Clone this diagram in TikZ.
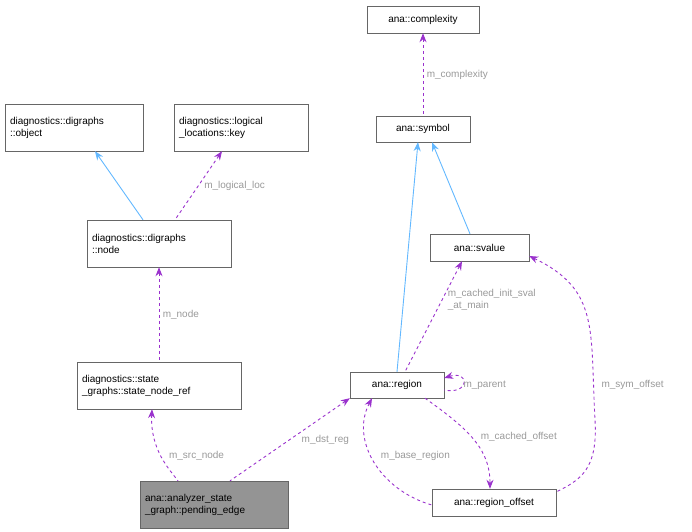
\documentclass[tikz,border=0pt]{standalone}
\usepackage{fontspec}
\setmainfont{Liberation Sans}
\usetikzlibrary{positioning,arrows.meta}
\definecolor{edgepurple}{RGB}{154,50,205}
\definecolor{edgeblue}{RGB}{99,184,255}
\definecolor{boxgray}{RGB}{102,102,102}
\definecolor{labelgray}{RGB}{153,153,153}

\begin{document}
\begin{tikzpicture}[x=1pt,y=-1pt,>={Stealth[length=9pt,width=7pt]}]
  % Node and edge styles
  \tikzset{
    cls/.style={rectangle, draw=boxgray, fill=white, inner sep=2pt, align=center, font=\fontsize{10}{12}\selectfont},
    wide/.style={cls, align=left, inner xsep=5pt, text width=#1},
    focus/.style={wide=#1, fill=boxgray!70},
    inherit/.style={<-, edgeblue, line width=0.9pt},
    member/.style={<-, dashed, edgepurple, line width=0.9pt},
    lbl/.style={font=\fontsize{10}{12}\selectfont, text=labelgray, align=left}
  }
  \useasboundingbox (0,0) rectangle (692,531);

  % Classes
  \node[cls, minimum width=112, minimum height=27] (complexity) at (423,19.5) {ana::complexity};
  \node[cls, minimum width=94, minimum height=26] (symbol) at (423,129) {ana::symbol};
  \node[wide=128pt, minimum height=47] (object) at (74,127.5) {diagnostics::digraphs\\::object};
  \node[wide=124pt, minimum height=47] (key) at (241,127.5) {diagnostics::logical\\\_locations::key};
  \node[wide=134pt, minimum height=47] (dnode) at (159,243.5) {diagnostics::digraphs\\::node};
  \node[cls, minimum width=99, minimum height=27] (svalue) at (479.5,247.5) {ana::svalue};
  \node[wide=154pt, minimum height=47] (noderef) at (159,385.5) {diagnostics::state\\\_graphs::state\_node\_ref};
  \node[cls, minimum width=94, minimum height=26] (region) at (397,385) {ana::region};
  \node[focus=138pt, minimum height=47] (pending) at (214,504.5) {ana::analyzer\_state\\\_graph::pending\_edge};
  \node[cls, minimum width=124, minimum height=27] (offset) at (494,502.5) {ana::region\_offset};

  % Inheritance
  \draw[inherit] (object.south -| 95,0) -- (dnode.north -| 143,0);
  \draw[inherit] (symbol.south -| 418,0) -- (region.north -| 397,0);
  \draw[inherit] (symbol.south -| 432,0) -- (svalue.north -| 470,0);

  % Members
  \draw[member] (complexity) -- (symbol) node[lbl, pos=0.5, right] {m\_complexity};
  \draw[member] (key.south -| 222,0) -- (dnode.north -| 175,0) node[lbl, pos=0.5, right=2pt] {m\_logical\_loc};
  \draw[member] (dnode) -- (noderef) node[lbl, pos=0.5, right] {m\_node};
  \draw[member] (svalue.south -| 462,0) -- (region.north -| 405,0) node[lbl, pos=0.35, right=2pt] {m\_cached\_init\_sval\\\_at\_main};
  \draw[member] (region.east |- 0,378) .. controls (470,370) and (470,395) .. (region.east |- 0,390);
  \node[lbl, right] (parentlbl) at (460,385) {m\_parent};
  \draw[member] (region.south -| 372,0) .. controls (350,440) and (380,490) .. (offset.west |- 0,505) node[lbl, pos=0.45, right=6pt] {m\_base\_region};
  \draw[->, dashed, edgepurple, line width=0.9pt] (region.south -| 425,0) .. controls (470,430) and (490,450) .. (offset.north -| 490,0) node[lbl, pos=0.45, right=6pt] {m\_cached\_offset};
  \draw[member] (svalue.east |- 0,256) .. controls (600,290) and (590,330) .. (595,420) .. controls (598,470) and (580,480) .. (offset.east |- 0,492);
  \node[lbl, right] (symlbl) at (598,385) {m\_sym\_offset};
  \draw[member] (noderef.south -| 152,0) .. controls (150,450) and (170,470) .. (pending.north -| 178,0) node[lbl, pos=0.5, right=4pt] {m\_src\_node};
  \draw[member] (region.south west) -- (pending.north -| 230,0) node[lbl, pos=0.5, right=8pt] {m\_dst\_reg};
\end{tikzpicture}
\end{document}
